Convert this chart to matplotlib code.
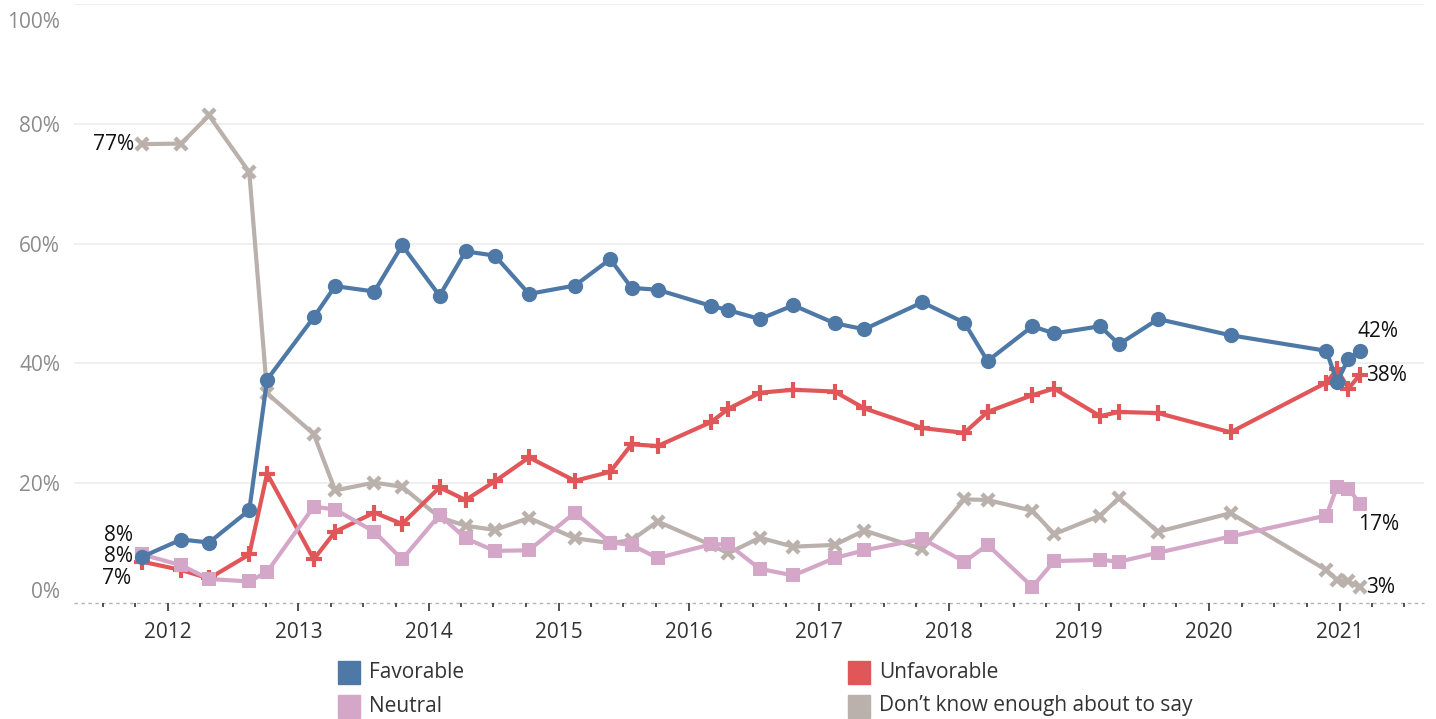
import matplotlib
matplotlib.use("Agg")
import matplotlib.pyplot as plt
import matplotlib.dates as mdates
import matplotlib.transforms as mtransforms
from matplotlib.patches import Rectangle
import numpy as np
import pandas as pd

plt.rcParams['font.family'] = ['Open Sans', 'DejaVu Sans']

# ---------------- data ----------------
dates = [
    "2011-10-20", "2012-02-07", "2012-04-25", "2012-08-16", "2012-10-05",
    "2013-02-13", "2013-04-14", "2013-08-02", "2013-10-19", "2014-02-01",
    "2014-04-15", "2014-07-06", "2014-10-10", "2015-02-16", "2015-05-26",
    "2015-07-25", "2015-10-06", "2016-03-04", "2016-04-21", "2016-07-19",
    "2016-10-21", "2017-02-14", "2017-05-08", "2017-10-18", "2018-02-13",
    "2018-04-19", "2018-08-23", "2018-10-23", "2019-03-01", "2019-04-23",
    "2019-08-11", "2020-03-01", "2020-11-25", "2020-12-25", "2021-01-26",
    "2021-02-27",
]
favorable = [7.7, 10.6, 10.1, 15.5, 37.3, 47.7, 52.9, 52.0, 59.7, 51.3,
             58.7, 58.0, 51.6, 53.0, 57.4, 52.6, 52.3, 49.6, 48.9, 47.4,
             49.7, 46.7, 45.7, 50.2, 46.8, 40.4, 46.2, 45.0, 46.2, 43.2,
             47.4, 44.7, 42.1, 36.9, 40.8, 42.1]
unfavorable = [6.9, 5.5, 4.1, 8.1, 21.6, 7.3, 11.9, 15.1, 13.2, 19.3,
               17.2, 20.3, 24.3, 20.4, 21.9, 26.5, 26.2, 30.2, 32.4, 35.1,
               35.6, 35.3, 32.5, 29.2, 28.4, 31.9, 34.7, 35.8, 31.2, 31.9,
               31.7, 28.5, 36.8, 39.0, 35.8, 38.1]
neutral = [8.1, 6.3, 4.0, 3.6, 5.2, 16.1, 15.6, 11.9, 7.3, 14.7,
           10.8, 8.7, 8.8, 15.1, 10.1, 9.7, 7.5, 9.8, 9.8, 5.7,
           4.6, 7.5, 8.8, 10.7, 6.9, 9.7, 2.7, 7.0, 7.2, 6.9,
           8.4, 11.1, 14.6, 19.4, 19.1, 16.6]
dont_know = [76.6, 76.7, 81.4, 71.9, 35.0, 28.2, 18.8, 20.1, 19.4, 14.3,
             12.9, 12.2, 14.2, 10.8, 10.0, 10.5, 13.6, 9.7, 8.3, 10.9,
             9.4, 9.7, 12.1, 9.0, 17.3, 17.2, 15.4, 11.5, 14.6, 17.5,
             11.9, 15.0, 5.5, 3.8, 3.6, 2.6]

categories = ["Favorable", "Unfavorable", "Neutral", "Don\u2019t know enough about to say"]
colors = ["#4e79a7", "#e15759", "#d4a6c8", "#bab0ac"]
year_ticks = list(range(2012, 2022))
y_ticks = [0, 20, 40, 60, 80, 100]

x = pd.to_datetime(dates)

# ---------------- figure ----------------
W, H = 1436, 719
fig = plt.figure(figsize=(W / 100, H / 100), dpi=100)
ax = fig.add_axes([74 / W, 1 - 603 / H, (1424 - 74) / W, (603 - 4) / H])

ax.set_xlim(pd.Timestamp("2011-04-12"), pd.Timestamp("2021-08-26"))
ax.set_ylim(0, 100)

# gridlines
for v in y_ticks[1:]:
    ax.axhline(v, color="#ececec", lw=1.2, zorder=0)
ax.axhline(0, color="#b5b5b5", lw=1.0, ls=(0, (2.5, 2.5)), zorder=0, clip_on=False)

lw = 3.0
series = [
    (dont_know, colors[3], dict(marker="x", ms=8.5, mew=3.2), 2),
    (unfavorable, colors[1], dict(marker="+", ms=11, mew=3.0), 3),
    (neutral, colors[2], dict(marker="s", ms=10.5, mew=0), 4),
    (favorable, colors[0], dict(marker="o", ms=11, mew=0), 5),
]
for vals, c, mk, z in series:
    ax.plot(x, vals, color=c, lw=lw, zorder=z, solid_joinstyle="round",
            solid_capstyle="round", markerfacecolor=c, markeredgecolor=c, **mk)

for s in ax.spines.values():
    s.set_visible(False)

# x ticks
ax.xaxis.set_major_locator(mdates.YearLocator())
ax.xaxis.set_major_formatter(mdates.DateFormatter("%Y"))
ax.xaxis.set_minor_locator(mdates.MonthLocator(bymonth=[1, 4, 7, 10]))
ax.tick_params(axis="x", which="major", length=6, width=1.3, color="#444444",
               labelsize=15, labelcolor="#333333", pad=8)
ax.tick_params(axis="x", which="minor", length=3, width=1.3, color="#444444")

# y ticks
ax.set_yticks(y_ticks)
ax.set_yticklabels([f"{v}%" for v in y_ticks])
ax.tick_params(axis="y", length=0, labelsize=15, labelcolor="#8c8c8c", pad=10)
labels = ax.get_yticklabels()
labels[0].set_transform(labels[0].get_transform() +
                        mtransforms.ScaledTranslation(0, 13 / 100, fig.dpi_scale_trans))
labels[-1].set_transform(labels[-1].get_transform() +
                         mtransforms.ScaledTranslation(0, -16 / 100, fig.dpi_scale_trans))

# annotations
def lab(txt, xi, yi, dx, dy, ha):
    ax.annotate(txt, xy=(xi, yi), xytext=(dx, dy), textcoords="offset pixels",
                ha=ha, va="center", fontsize=15, color="#111111", zorder=10)

lab(f"{round(dont_know[0])}%", x[0], dont_know[0], -8, 0, "right")
lab(f"{round(neutral[0])}%", x[0], neutral[0], -9, 19, "right")
lab(f"{round(favorable[0])}%", x[0], favorable[0], -9, 0, "right")
lab(f"{round(unfavorable[0])}%", x[0], unfavorable[0], -11, -17, "right")
lab(f"{round(favorable[-1])}%", x[-1], favorable[-1], -2, 19, "left")
lab(f"{round(unfavorable[-1])}%", x[-1], unfavorable[-1], 6, -1, "left")
lab(f"{round(neutral[-1])}%", x[-1], neutral[-1], -2, -21, "left")
lab(f"{round(dont_know[-1])}%", x[-1], dont_know[-1], 6, 0, "left")

# legend (manual)
leg_pos = [(338, 672), (848, 672), (338, 706), (848, 706)]
for (lx, ly), name, c in zip(leg_pos, categories, colors):
    fig.patches.append(Rectangle((lx / W, 1 - (ly + 12) / H), 22 / W, 23 / H,
                                 transform=fig.transFigure, color=c, figure=fig))
    fig.text((lx + 31) / W, 1 - ly / H, name, ha="left", va="center",
             fontsize=15, color="#333333")

fig.savefig("out.png", dpi=100)
